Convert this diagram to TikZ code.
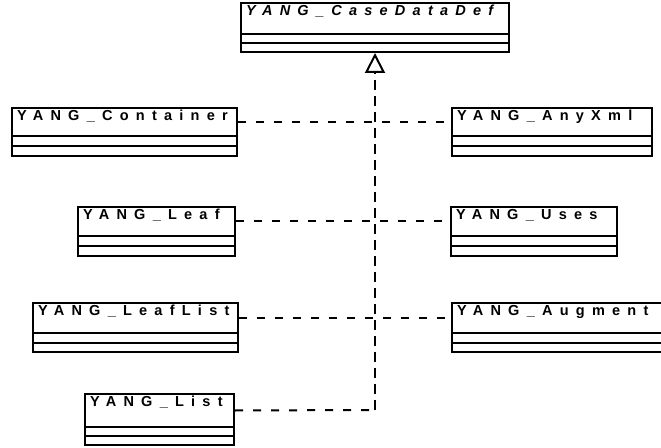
\documentclass[tikz,border=0pt]{standalone}
\usepackage{fontspec}
\newfontfamily\clsfont[LetterSpace=50]{Liberation Sans}
\usetikzlibrary{arrows.meta,fit,calc}
\tikzset{
  box/.style={draw=black, line width=2bp, inner sep=0pt, fill=white},
  lbl/.style={anchor=base west, inner sep=0pt, font=\clsfont\fontsize{14.5bp}{16bp}\selectfont\bfseries},
  dep/.style={draw=black, line width=2bp, dash pattern=on 8bp off 10bp},
  vdep/.style={draw=black, line width=2bp, dash pattern=on 10bp off 6bp},
}
\newcommand{\umlclass}[8]{%
  \node[box, fit={(#2,#4)(#3,#5)}] (#1) {};
  \node[box, fit={(#2,#5)(#3,#6)}] (#1-a) {};
  \node[box, fit={(#2,#6)(#3,#7)}] (#1-b) {};
  \node[lbl] (#1-t) at ($(#1.north west)+(6,13.5)$) {#8};
}
\begin{document}
\begin{tikzpicture}[x=1bp,y=-1bp]
\useasboundingbox (0,0) rectangle (661,448);
\clip (0,0) rectangle (661,448);
\coordinate (vjoin) at (375,410);
\umlclass{case}{241}{509}{3}{34}{43}{52}{\itshape YANG\_CaseDataDef}
\umlclass{cont}{12}{237}{108}{136}{146}{156}{YANG\_Container}
\umlclass{anyxml}{452}{652}{108}{136}{146}{156}{YANG\_AnyXml}
\umlclass{leaf}{78}{235}{207}{236}{246}{256}{YANG\_Leaf}
\umlclass{uses}{451}{617}{207}{236}{246}{256}{YANG\_Uses}
\umlclass{leaflist}{33}{238}{303}{333}{343}{352}{YANG\_LeafList}
\umlclass{augment}{452}{700}{303}{333}{343}{352}{YANG\_Augment}
\umlclass{list}{85}{234}{394}{427}{436}{445}{YANG\_List}
\draw[dep] (cont.east) -- (anyxml.west);
\draw[dep] (leaf.east) -- (uses.west);
\draw[dep] (leaflist.east) -- (augment.west);
\draw[dep] (list.east) -- (vjoin);
\draw[vdep, -{Triangle[open, length=20bp, width=20bp, line width=2bp]}] (vjoin) -- (case-b.south);
\end{tikzpicture}
\end{document}
